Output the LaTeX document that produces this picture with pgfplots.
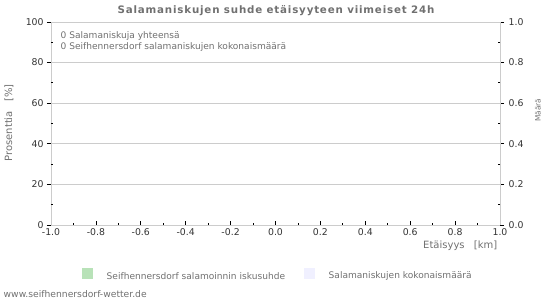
\documentclass[border=0pt]{standalone}
\usepackage{fontspec}
\setmainfont{DejaVu Sans}
\usepackage{pgfplots}
\pgfplotsset{compat=1.18}
\definecolor{gridc}{HTML}{CCCCCC}
\definecolor{txt}{HTML}{707070}
\definecolor{tickc}{HTML}{333333}
\definecolor{legA}{HTML}{B8E2B8}
\definecolor{legB}{HTML}{F0F0FF}
\begin{document}
\begin{tikzpicture}
\begin{axis}[
  at={(38.25pt,56.25pt)}, anchor=south west,
  scale only axis, width=336.75pt, height=152.25pt,
  xmin=-1, xmax=1, ymin=0, ymax=100,
  axis line style={gridc},
  xtick={-1,-0.8,-0.6,-0.4,-0.2,0,0.2,0.4,0.6,0.8,1},
  minor xtick={-0.9,-0.7,-0.5,-0.3,-0.1,0.1,0.3,0.5,0.7,0.9},
  ytick={0,20,40,60,80,100},
  extra y ticks={10,30,50,70,90},
  extra y tick labels={},
  extra y tick style={ymajorgrids=false, tick align=inside, major tick length=1.5pt},
  ymajorgrids, grid style={gridc, line width=0.5pt},
  xtick pos=bottom, ytick pos=left,
  x tick style={black, line width=0.6pt},
  y tick style={black, line width=0.6pt},
  xtick align=inside, ytick align=outside,
  major tick length=3pt, minor tick length=1.5pt,
  tick label style={font=\fontsize{7}{8}\selectfont, text=tickc},
  xticklabel style={/pgf/number format/fixed, /pgf/number format/fixed zerofill, /pgf/number format/precision=1, /pgf/number format/assume math mode=true, yshift=1pt},
  yticklabel style={/pgf/number format/assume math mode=true, xshift=1pt},
]
\addplot[draw=none, fill=legA, forget plot] coordinates {(0,0)};
\addplot[draw=none, fill=legB, forget plot] coordinates {(0,0)};
\end{axis}
\begin{axis}[
  at={(38.25pt,56.25pt)}, anchor=south west,
  scale only axis, width=336.75pt, height=152.25pt,
  xmin=-1, xmax=1, ymin=0, ymax=1,
  hide x axis, axis y line*=right,
  axis line style={gridc},
  ytick={0,0.2,0.4,0.6,0.8,1},
  extra y ticks={0.1,0.3,0.5,0.7,0.9},
  extra y tick labels={},
  extra y tick style={tick align=inside, major tick length=1.5pt},
  y tick style={black, line width=0.6pt},
  ytick align=outside, major tick length=3pt,
  tick label style={font=\fontsize{7}{8}\selectfont, text=tickc},
  yticklabel style={/pgf/number format/fixed, /pgf/number format/fixed zerofill, /pgf/number format/precision=1, /pgf/number format/assume math mode=true},
]
\addplot[draw=none, forget plot] coordinates {(0,0)};
\end{axis}
\begin{scope}[x=0.75pt,y=0.75pt]
\path[use as bounding box] (0,0) rectangle (550,300);
% title
\node[text=txt, font=\fontsize{7.7}{9}\selectfont\bfseries\addfontfeatures{LetterSpace=8}] at (276,289) {Salamaniskujen suhde etäisyyteen viimeiset 24h};
% in-plot info
\node[anchor=west, text=txt, font=\fontsize{6.8}{8}\selectfont] at (56,264) {0 Salamaniskuja yhteensä};
\node[anchor=west, text=txt, font=\fontsize{6.8}{8}\selectfont] at (56,253) {0 Seifhennersdorf salamaniskujen kokonaismäärä};
% axis labels
\node[anchor=east, text=txt, font=\fontsize{7.5}{8}\selectfont] at (502,54) {Etäisyys\hspace{7pt}[km]};
\node[rotate=90, text=txt, font=\fontsize{7.5}{8}\selectfont] at (9,177) {Prosenttia\hspace{7pt}[\%]};
\node[rotate=90, text=txt, font=\fontsize{5.5}{6}\selectfont] at (538,190) {Määrä};
% legend
\fill[legA] (82,21) rectangle (93,32);
\node[anchor=west, text=txt, font=\fontsize{6.8}{8}\selectfont] at (102,24) {Seifhennersdorf salamoinnin iskusuhde};
\fill[legB] (304,21) rectangle (315,32);
\node[anchor=west, text=txt, font=\fontsize{6.8}{8}\selectfont] at (324,24) {Salamaniskujen kokonaismäärä};
% footer
\node[anchor=west, text=txt, font=\fontsize{6.9}{8}\selectfont] at (-1,6) {www.seifhennersdorf-wetter.de};
\end{scope}
\end{tikzpicture}
\end{document}
